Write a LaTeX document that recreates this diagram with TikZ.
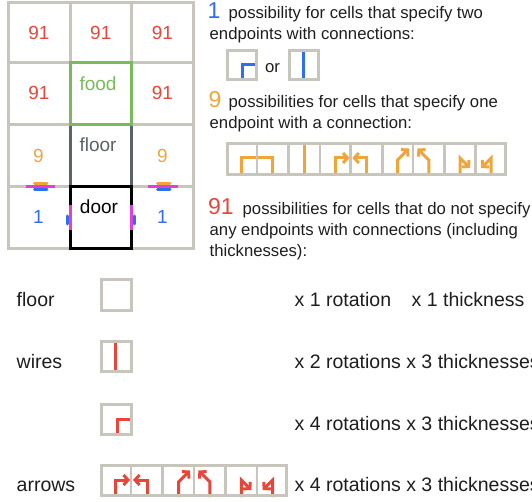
\documentclass[tikz,border=0pt]{standalone}
\usepackage{fontspec}
\setmainfont{Liberation Sans}
\usetikzlibrary{arrows.meta}
\definecolor{cred}{HTML}{E5473A}
\definecolor{corange}{HTML}{F0A53C}
\definecolor{cblue}{HTML}{2F6EF0}
\definecolor{cgreen}{HTML}{7BBA5C}
\definecolor{cmag}{HTML}{E43FD5}
\definecolor{cgray}{HTML}{C8C5BD}
\definecolor{cdark}{HTML}{5C6266}
\definecolor{ctext}{HTML}{1E1E1E}
\begin{document}
\begin{tikzpicture}[x=1pt,y=-1pt,
  gline/.style={draw=cgray, line width=3pt},
  thinline/.style={draw=cgray, line width=2pt},
  wire/.style={line width=3pt},
  tip/.style={-{Straight Barb[length=4.5pt,width=10pt]}},
  txt/.style={anchor=base west, inner sep=0pt, text=ctext, font=\fontsize{16.7}{20}\selectfont},
  big/.style={anchor=base west, inner sep=0pt, font=\fontsize{23}{23}\selectfont},
  lbl/.style={anchor=base west, inner sep=0pt, text=ctext, font=\fontsize{19.5}{22}\selectfont},
  gnum/.style={anchor=base, inner sep=0pt, font=\fontsize{19}{20}\selectfont}]
\useasboundingbox[fill=white] (0,0) rectangle (532,502);

% ---------- grid ----------
\draw[gline] (8.3,2.7) rectangle (193.3,248.3);
\foreach \x in {70,131.7} \draw[gline] (\x,2.7) -- (\x,248.3);
\foreach \y in {62.7,125,186.7} \draw[gline] (8.3,\y) -- (193.3,\y);
\draw[cdark, line width=3pt] (70,125) -- (70,186.7) (131.7,125) -- (131.7,186.7);
\draw[cgreen, line width=3pt] (70,62.7) rectangle (131.7,125);
\draw[black, line width=3pt] (70,186.7) rectangle (131.7,248.3);

% marks
\draw[wire, corange, line cap=round] (34.5,184) -- (47,184);
\draw[wire, cblue, line cap=round] (34.5,189.5) -- (47,189.5);
\draw[wire, cmag] (26,186.7) -- (55,186.7);
\draw[wire, corange, line cap=round] (157.5,184) -- (170,184);
\draw[wire, cblue, line cap=round] (157.5,189.5) -- (170,189.5);
\draw[wire, cmag] (148.3,186.7) -- (178.3,186.7);
\draw[wire, cblue, line cap=round] (67.3,216) -- (67.3,224);
\draw[wire, cblue, line cap=round] (134.4,216) -- (134.4,224);
\draw[wire, cmag] (70,205) -- (70,230);
\draw[wire, cmag] (131.7,205) -- (131.7,230);

% grid labels
\node[gnum, text=cred] (g11) at (39,39.3) {91};
\node[gnum, text=cred] (g12) at (100.8,39.3) {91};
\node[gnum, text=cred] (g13) at (162.5,39.3) {91};
\node[gnum, text=cred] (g21) at (39,100) {91};
\node[gnum, text=cgreen] (g22) at (98,90.7) {food};
\node[gnum, text=cred] (g23) at (162.5,100) {91};
\node[gnum, text=corange] (g31) at (38.5,162.3) {9};
\node[gnum, text=cdark] (g32) at (98,151.7) {floor};
\node[gnum, text=corange] (g33) at (162.5,162.3) {9};
\node[gnum, text=cblue] (g41) at (38.5,223.3) {1};
\node[gnum, text=black] (g42) at (99,213.3) {door};
\node[gnum, text=cblue] (g43) at (162.5,223.3) {1};

% ---------- right text ----------
\node[big, text=cblue] (n1) at (207.5,18.5) {1};
\node[txt] (t1a) at (228.5,18.5) {possibility for cells that specify two};
\node[txt] (t1b) at (209.5,39.5) {endpoints with connections:};
% blue icons
\draw[wire, cblue] (242,81) -- (242,65) -- (258,65);
\draw[gline] (227.5,50.5) rectangle (256.8,79.5);
\node[txt] (or) at (265,72.7) {or};
\draw[wire, cblue] (303.5,49) -- (303.5,81);
\draw[gline] (289.2,50.5) rectangle (318.5,79.5);

\node[big, text=corange] (n9) at (208.5,107.5) {9};
\node[txt] (t2a) at (228.5,107.5) {possibilities for cells that specify one};
\node[txt] (t2b) at (209.5,128.3) {endpoint with a connection:};
% orange strip
\begin{scope}[corange, wire]
\draw (241.6,176) -- (241.6,158) -- (272.8,158) -- (272.8,176);
\draw (304,142) -- (304,176);
\draw[tip] (335.2,176) -- (335.2,158) -- (349.5,158);
\draw[tip] (366.4,176) -- (366.4,158) -- (352.3,158);
\draw[tip] (397.6,176) -- (397.6,160) -- (409,148.5);
\draw[tip] (428.8,176) -- (428.8,160) -- (417.4,148.5);
\draw[tip] (460,176) -- (460,158) -- (470,168);
\draw[tip] (491.2,176) -- (491.2,158) -- (481.2,168);
\end{scope}
\foreach \k in {2,4,5,7,8} \draw[gline] (226+31.2*\k,142) -- (226+31.2*\k,176);
\foreach \k in {1,3,6} \draw[thinline] (226+31.2*\k,142) -- (226+31.2*\k,176);
\draw[gline] (227.5,143.5) rectangle (505.5,174.5);

\node[big, text=cred] (n91) at (208,215) {91};
\node[txt] (t3a) at (242.5,215) {possibilities for cells that do not specify};
\node[txt] (t3b) at (209.5,236) {any endpoints with connections (including};
\node[txt] (t3c) at (209.5,257) {thicknesses):};

% ---------- bottom rows ----------
\node[lbl] (lfloor) at (16.5,306.7) {floor};
\node[lbl] (lwires) at (16.5,368) {wires};
\node[lbl] (larrows) at (16.5,491.7) {arrows};

\draw[gline] (101.5,279.8) rectangle (131.8,310.2);

\draw[wire, cred] (115.8,340) -- (115.8,373.3);
\draw[gline] (101.5,341.5) rectangle (131.8,371.8);

\draw[wire, cred] (117.5,436.3) -- (117.5,419) -- (133.3,419);
\draw[gline] (101.5,404.5) rectangle (131.8,434.8);

\begin{scope}[cred, wire]
\draw[tip] (115.7,497) -- (115.7,480) -- (130,480);
\draw[tip] (147.1,497) -- (147.1,480) -- (133,480);
\draw[tip] (178.5,497) -- (178.5,482) -- (190,470.5);
\draw[tip] (209.9,497) -- (209.9,482) -- (198.4,470.5);
\draw[tip] (241.3,497) -- (241.3,480) -- (251.3,490);
\draw[tip] (272.7,497) -- (272.7,480) -- (262.7,490);
\end{scope}
\foreach \k in {2,4} \draw[gline] (100+31.4*\k,464) -- (100+31.4*\k,497);
\foreach \k in {1,3,5} \draw[thinline] (100+31.4*\k,464) -- (100+31.4*\k,497);
\draw[gline] (101.5,465.5) rectangle (286.8,495.5);

\node[lbl] (r1a) at (294.5,306.7) {x 1 rotation};
\node[lbl] (r1b) at (411.5,306.7) {x 1 thickness};
\node[lbl] (r2) at (294.5,368) {x 2 rotations x 3 thicknesses};
\node[lbl] (r3) at (294.5,430) {x 4 rotations x 3 thicknesses};
\node[lbl] (r4) at (294.5,491.7) {x 4 rotations x 3 thicknesses};
\end{tikzpicture}
\end{document}
